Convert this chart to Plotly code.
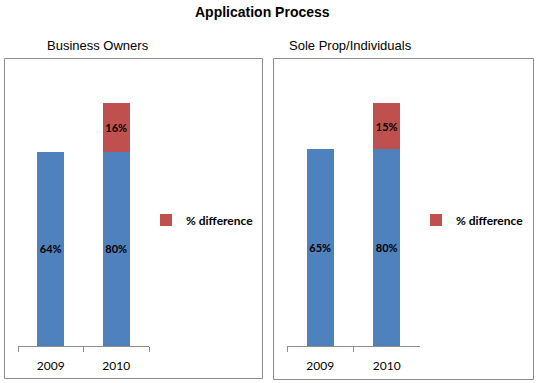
import plotly.graph_objects as go

W, H = 541, 383

years = ["2009", "2010"]

# Business Owners
bo_base = [64, 64]
bo_base_labels = ["64%", "80%"]
bo_diff = [0, 16]
bo_diff_labels = ["", "16%"]

# Sole Prop/Individuals
sp_base = [65, 65]
sp_base_labels = ["65%", "80%"]
sp_diff = [0, 15]
sp_diff_labels = ["", "15%"]

BLUE = "#4F81BD"
RED = "#C0504D"
GRAY = "#8C8C8C"
LBL_FONT = dict(family="Lato", size=11, color="black", weight="bold")

def px_x(x):
    return x / W

def px_y(y):
    return 1 - y / H

fig = go.Figure()

def add_panel(base, base_lbl, diff, diff_lbl, xa, ya, legend):
    fig.add_trace(go.Bar(
        x=years, y=base, text=base_lbl, xaxis=xa, yaxis=ya,
        marker=dict(color=BLUE, line=dict(width=0)), width=0.41,
        textposition="inside", insidetextanchor="middle", textangle=0,
        constraintext="none", textfont=LBL_FONT, showlegend=False,
        hoverinfo="skip"))
    fig.add_trace(go.Bar(
        x=years, y=diff, text=diff_lbl, xaxis=xa, yaxis=ya,
        marker=dict(color=RED, line=dict(width=0)), width=0.41,
        textposition="inside", insidetextanchor="middle", textangle=0,
        constraintext="none", textfont=LBL_FONT, name="% difference",
        legend=legend, showlegend=True, hoverinfo="skip"))

add_panel(bo_base, bo_base_labels, bo_diff, bo_diff_labels, "x", "y", "legend")
add_panel(sp_base, sp_base_labels, sp_diff, sp_diff_labels, "x2", "y2", "legend2")

xcommon = dict(type="category", showline=True, linecolor=GRAY, linewidth=1,
               ticks="outside", tickson="boundaries", ticklen=5, tickcolor=GRAY,
               ticklabelstandoff=9,
               showgrid=False, zeroline=False,
               tickfont=dict(family="Lato", size=12, color="black"))
ycommon = dict(range=[0, 90], visible=False, showgrid=False, zeroline=False)

y_dom = [px_y(346), px_y(73)]

legend_common = dict(font=dict(family="Lato", size=12, color="black", weight="bold"),
                     bgcolor="rgba(0,0,0,0)", yanchor="middle", xanchor="left",
                     y=px_y(220), itemwidth=30, tracegroupgap=0)

fig.update_layout(
    width=W, height=H,
    margin=dict(l=0, r=0, t=0, b=0),
    paper_bgcolor="white", plot_bgcolor="white",
    barmode="stack", bargap=0.59,
    xaxis=dict(domain=[px_x(18), px_x(149)], anchor="y", **xcommon),
    yaxis=dict(domain=y_dom, anchor="x", **ycommon),
    xaxis2=dict(domain=[px_x(287), px_x(420)], anchor="y2", **xcommon),
    yaxis2=dict(domain=y_dom, anchor="x2", **ycommon),
    legend=dict(x=px_x(146), **legend_common),
    legend2=dict(x=px_x(416), **legend_common),
    shapes=[
        dict(type="rect", xref="paper", yref="paper",
             x0=px_x(4.5), x1=px_x(262.5), y0=px_y(378.5), y1=px_y(58.5),
             line=dict(color=GRAY, width=1), fillcolor="rgba(0,0,0,0)"),
        dict(type="rect", xref="paper", yref="paper",
             x0=px_x(273.5), x1=px_x(533.5), y0=px_y(379.5), y1=px_y(58.5),
             line=dict(color=GRAY, width=1), fillcolor="rgba(0,0,0,0)"),
    ],
    annotations=[
        dict(text="<b>Application Process</b>", x=px_x(262), y=px_y(12),
             xref="paper", yref="paper", showarrow=False,
             xanchor="center", yanchor="middle",
             font=dict(family="Liberation Sans", size=14, color="black")),
        dict(text="Business Owners", x=px_x(98), y=px_y(45),
             xref="paper", yref="paper", showarrow=False,
             xanchor="center", yanchor="middle",
             font=dict(family="Liberation Sans", size=13, color="black")),
        dict(text="Sole Prop/Individuals", x=px_x(350), y=px_y(45),
             xref="paper", yref="paper", showarrow=False,
             xanchor="center", yanchor="middle",
             font=dict(family="Liberation Sans", size=13, color="black")),
    ],
)

fig.write_html("out.html", config={"displayModeBar": False},
               post_script="document.body.style.margin='0';document.body.style.overflow='hidden';")
